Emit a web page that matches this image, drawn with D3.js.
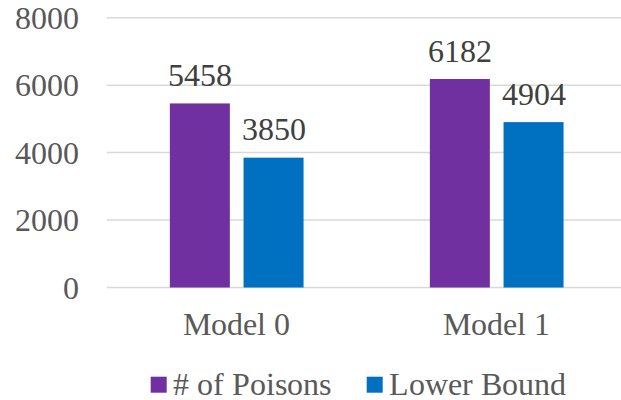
<!DOCTYPE html>
<html>
<head>
<meta charset="utf-8">
<script src="https://cdn.jsdelivr.net/npm/d3@7"></script>
<style>
  @font-face {
    font-family: "ChartSerif";
    src: local("Liberation Serif"), local("LiberationSerif"), local("LiberationSerif-Regular"), local("Times New Roman");
  }
  #chart text { font-family: "ChartSerif", "Liberation Serif", "Times New Roman", serif !important; }
</style>
</head>
<body style="margin:0;background:#fff">
<svg id="chart" width="621" height="400" style="display:block"></svg>
<script>
// Chart data
const categories = ["Model 0", "Model 1"];
const seriesNames = ["# of Poisons", "Lower Bound"];
const poisons = [5458, 6182];
const lowerBound = [3850, 4904];
const yTicks = [0, 2000, 4000, 6000, 8000];
const colors = ["#7030A0", "#0070C0"];

const FONT = "ChartSerif, 'Liberation Serif', serif";
const fontSize = 31.5;

const seriesValues = [poisons, lowerBound];
const rows = categories.map((c, i) => ({
  category: c,
  values: seriesNames.map((s, j) => ({ series: s, value: seriesValues[j][i], idx: j }))
}));

const svg = d3.select("#chart");
const plotLeft = 106.7, plotRight = 626.7, plotTop = 17.7, plotBottom = 287.5;

const x0 = d3.scaleBand()
  .domain(categories)
  .range([plotLeft, plotRight]);

const groupWidth = 133.7;
const x1 = d3.scaleBand()
  .domain(seriesNames)
  .range([0, groupWidth])
  .paddingInner(0.186);

const y = d3.scaleLinear()
  .domain([0, 8000])
  .range([plotBottom, plotTop]);

// Horizontal gridlines
svg.append("g")
  .selectAll("line")
  .data(yTicks)
  .join("line")
  .attr("x1", plotLeft)
  .attr("x2", plotRight)
  .attr("y1", d => y(d))
  .attr("y2", d => y(d))
  .attr("stroke", "#d9d9d9")
  .attr("stroke-width", 1.5);

// Y axis tick labels
const yAxis = d3.axisLeft(y).tickValues(yTicks).tickSize(0).tickPadding(0).tickFormat(d3.format("d"));
const yg = svg.append("g")
  .attr("transform", "translate(79,0)")
  .call(yAxis)
  .attr("font-family", FONT)
  .attr("font-size", fontSize);
yg.select(".domain").remove();
yg.selectAll("text")
  .attr("font-family", FONT)
  .attr("fill", "#595959")
  .attr("dy", "0.34em");

// Bars
const groups = svg.append("g")
  .selectAll("g")
  .data(rows)
  .join("g")
  .attr("transform", d => `translate(${x0(d.category) + (x0.bandwidth() - groupWidth) / 2},0)`);

groups.selectAll("rect")
  .data(d => d.values)
  .join("rect")
  .attr("x", d => x1(d.series))
  .attr("width", x1.bandwidth())
  .attr("y", d => y(d.value))
  .attr("height", d => y(0) - y(d.value))
  .attr("fill", d => colors[d.idx]);

// Value labels
groups.selectAll("text.value")
  .data(d => d.values)
  .join("text")
  .attr("class", "value")
  .attr("x", d => x1(d.series) + x1.bandwidth() / 2)
  .attr("y", d => y(d.value) - 17.5)
  .attr("text-anchor", "middle")
  .attr("font-family", FONT)
  .attr("font-size", fontSize)
  .attr("fill", "#404040")
  .text(d => d.value);

// Category axis labels
const xAxis = d3.axisBottom(x0).tickSize(0).tickPadding(0);
const xg = svg.append("g")
  .attr("transform", `translate(0,${y(0)})`)
  .call(xAxis)
  .attr("font-family", FONT)
  .attr("font-size", fontSize);
xg.select(".domain").remove();
xg.selectAll("text")
  .attr("font-family", FONT)
  .attr("fill", "#595959")
  .attr("dy", null)
  .attr("y", 47.7);

// Legend
const legendItems = [
  { name: seriesNames[0], color: colors[0], x: 150.7 },
  { name: seriesNames[1], color: colors[1], x: 366.7 }
];
const li = svg.append("g")
  .selectAll("g")
  .data(legendItems)
  .join("g")
  .attr("transform", d => `translate(${d.x},0)`);
li.append("rect")
  .attr("y", 376.7)
  .attr("width", 16)
  .attr("height", 16)
  .attr("fill", d => d.color);
li.append("text")
  .attr("x", 22.7)
  .attr("y", 394.5)
  .attr("font-family", FONT)
  .attr("font-size", fontSize)
  .attr("fill", "#595959")
  .text(d => d.name);
</script>
</body>
</html>
